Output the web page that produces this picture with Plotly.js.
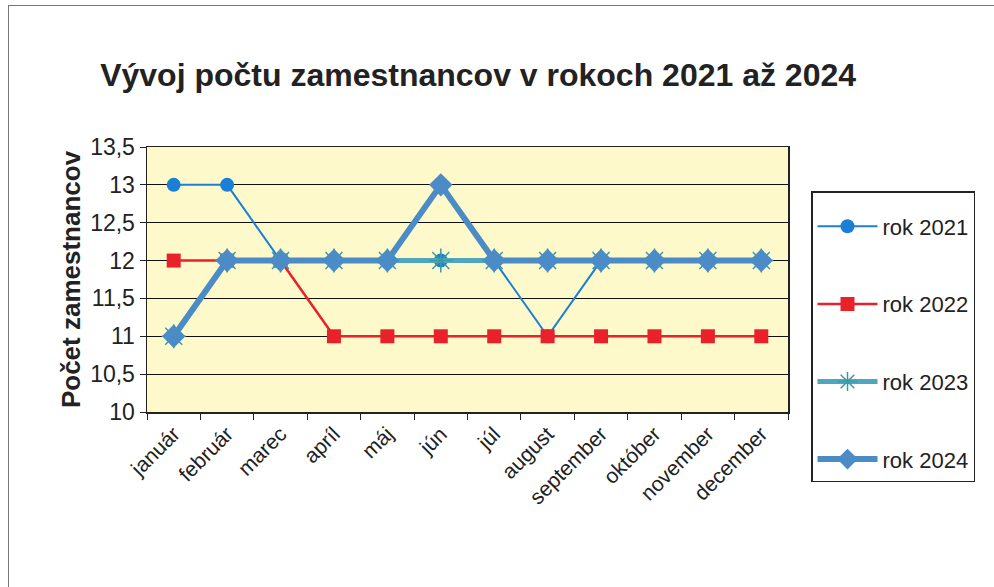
<!DOCTYPE html>
<html><head><meta charset="utf-8">
<script src="https://cdn.plot.ly/plotly-3.0.1.min.js"></script>
<style>
html,body{margin:0;padding:0;background:#fff;}
#wrap{position:relative;width:994px;height:587px;overflow:hidden;}
#frame{position:absolute;left:8px;top:5px;width:1000px;height:600px;border:1px solid #777;box-sizing:border-box;pointer-events:none;}
#chart{position:absolute;left:0;top:0;width:994px;height:587px;}
</style></head>
<body><div id="wrap"><div id="chart"></div><div id="frame"></div></div>
<script>
const months = ["január","február","marec","apríl","máj","jún","júl","august","september","október","november","december"];
const seriesNames = ["rok 2021","rok 2022","rok 2023","rok 2024"];
const rok2021 = [13,13,12,12,12,12,12,11,12,12,12,12];
const rok2022 = [12,12,12,11,11,11,11,11,11,11,11,11];
const rok2023 = [11,12,12,12,12,12,12,12,12,12,12,12];
const rok2024 = [11,12,12,12,12,13,12,12,12,12,12,12];
const yTicks = [10,10.5,11,11.5,12,12.5,13,13.5];

const traces = [
 {x:months,y:rok2021,name:seriesNames[0],type:'scatter',mode:'lines+markers',legendgroup:'a',
  line:{color:'#1b7fd6',width:2},marker:{symbol:'circle',size:14,color:'#1b7fd6'}},
 {x:months,y:rok2022,name:seriesNames[1],type:'scatter',mode:'lines+markers',legendgroup:'b',
  line:{color:'#e8212b',width:2.5},marker:{symbol:'square',size:14,color:'#e8212b'}},
 {x:months,y:rok2023,name:seriesNames[2],type:'scatter',mode:'lines+markers',legendgroup:'c',
  line:{color:'#4fa6bf',width:5},marker:{symbol:'asterisk-open',size:20,color:'#3a9aa8',line:{color:'#3a9aa8',width:1.5}}},
 {x:months,y:rok2024,name:seriesNames[3],type:'scatter',mode:'lines+markers',legendgroup:'d',
  line:{color:'#4c8cc6',width:6},marker:{symbol:'diamond',size:18,color:'#4c8cc6'}}
];

const layout = {
 width:994,height:587,
 margin:{l:147,r:206,t:147,b:175},
 paper_bgcolor:'rgba(0,0,0,0)',
 plot_bgcolor:'#fdf9cb',
 separators:', ',
 font:{family:'Liberation Sans, Arial, sans-serif',color:'#000'},
 title:{text:'<b>Vývoj počtu zamestnancov v rokoch 2021 až 2024</b>',font:{size:32,color:'#222'},
   xref:'container',x:0.481,xanchor:'center',yref:'container',y:0.872,yanchor:'middle'},
 xaxis:{type:'category',tickangle:-45,tickfont:{size:21,color:'#222'},
   showline:true,linecolor:'#222',linewidth:1.5,mirror:true,
   ticks:'outside',tickson:'boundaries',ticklen:6,tickcolor:'#222',showgrid:false,
   range:[-0.5,11.5]},
 yaxis:{range:[10,13.5],tickvals:yTicks,tickfont:{size:23,color:'#222'},
   showline:true,linecolor:'#222',linewidth:1.5,mirror:true,
   ticks:'outside',ticklen:6,tickcolor:'#222',
   showgrid:true,gridcolor:'#111',gridwidth:1,zeroline:false,
   title:{text:'<b>Počet zamestnancov</b>',font:{size:26,color:'#222'},standoff:2}},
 legend:{xref:'container',yref:'container',x:811/994,y:1-191/587,xanchor:'left',yanchor:'top',
   bgcolor:'#fff',bordercolor:'#222',borderwidth:1.5,font:{size:22,color:'#222'},
   title:{text:' ',font:{size:10}},
   tracegroupgap:46,traceorder:'grouped',itemwidth:60},
 showlegend:true
};
Plotly.newPlot('chart',traces,layout,{displayModeBar:false,staticPlot:true});
</script></body></html>
